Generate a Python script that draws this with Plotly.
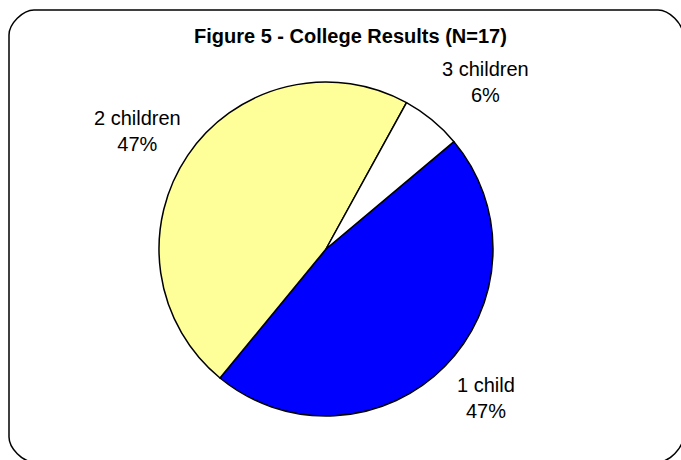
import plotly.graph_objects as go

# Survey data: number of children per respondent, college results
categories = ["1 child", "2 children", "3 children"]
counts = [8, 8, 1]
slice_colors = ["#0000FF", "#FFFF99", "#FFFFFF"]
title_text = "Figure 5 - College Results (N=17)"

W, H = 681, 460
total = sum(counts)
percents = [round(100 * c / total) for c in counts]


def px(x):
    return x / W


def py(y):
    return 1 - y / H


# Pie centre and radius in pixels
cx, cy, r = 326, 249, 167

fig = go.Figure(
    go.Pie(
        labels=categories,
        values=counts,
        sort=False,
        direction="clockwise",
        rotation=50,
        marker=dict(colors=slice_colors, line=dict(color="black", width=1.5)),
        textinfo="none",
        hoverinfo="skip",
        showlegend=False,
        domain=dict(x=[px(cx - r), px(cx + r)], y=[py(cy + r), py(cy - r)]),
    )
)

# Outside slice labels: category name over its percentage
label_pos = {
    "1 child": (486, 398),
    "2 children": (137, 131),
    "3 children": (485, 82),
}
annotations = []
for cat, pct in zip(categories, percents):
    x, y = label_pos[cat]
    annotations.append(
        dict(
            x=px(x), y=py(y), xref="paper", yref="paper",
            text=f"{cat}<br>{pct}%", showarrow=False,
            xanchor="center", yanchor="middle", align="center",
            font=dict(family="Arial, Liberation Sans, sans-serif", size=20, color="black"),
        )
    )

annotations.append(
    dict(
        x=px(350), y=py(36), xref="paper", yref="paper",
        text=f"<b>{title_text}</b>", showarrow=False,
        xanchor="center", yanchor="middle",
        font=dict(family="Arial, Liberation Sans, sans-serif", size=20, color="black"),
    )
)

# Rounded frame around the chart area (right and bottom edges run past the page)
x0, y0, x1, y1, rad = 9, 10, 683, 462, 25
k = 0.45 * rad
frame = (
    f"M {px(x0 + rad)},{py(y0)} L {px(x1 - rad)},{py(y0)} "
    f"C {px(x1 - rad + k)},{py(y0)} {px(x1)},{py(y0 + rad - k)} {px(x1)},{py(y0 + rad)} "
    f"L {px(x1)},{py(y1 - rad)} "
    f"C {px(x1)},{py(y1 - rad + k)} {px(x1 - rad + k)},{py(y1)} {px(x1 - rad)},{py(y1)} "
    f"L {px(x0 + rad)},{py(y1)} "
    f"C {px(x0 + rad - k)},{py(y1)} {px(x0)},{py(y1 - rad + k)} {px(x0)},{py(y1 - rad)} "
    f"L {px(x0)},{py(y0 + rad)} "
    f"C {px(x0)},{py(y0 + rad - k)} {px(x0 + rad - k)},{py(y0)} {px(x0 + rad)},{py(y0)} Z"
)

fig.update_layout(
    width=W,
    height=H,
    margin=dict(l=0, r=0, t=0, b=0),
    paper_bgcolor="white",
    plot_bgcolor="white",
    annotations=annotations,
    shapes=[
        dict(type="path", path=frame, xref="paper", yref="paper",
             line=dict(color="black", width=1.5), layer="below")
    ],
)

fig.write_html("out.html")
